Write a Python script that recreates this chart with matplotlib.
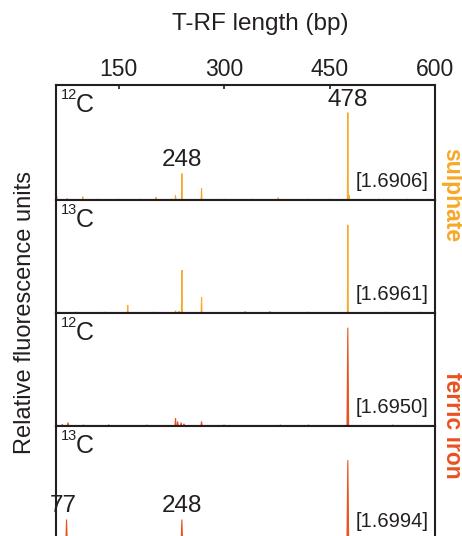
import numpy as np
import matplotlib.pyplot as plt

plt.rcParams['font.family'] = ['Liberation Sans', 'DejaVu Sans']

# --- data: peak positions (bp) and relative heights per profile ---
pos_12c_sul = [62, 77, 99, 120, 150, 180, 203, 225, 231, 240, 268, 300, 340, 377, 420, 450, 476, 478, 520, 560, 590]
hgt_12c_sul = [0.035, 0.015, 0.03, 0.01, 0.01, 0.01, 0.025, 0.01, 0.04, 0.23, 0.10, 0.01, 0.01, 0.02, 0.01, 0.01, 0.76, 0.04, 0.01, 0.01, 0.01]

pos_13c_sul = [65, 90, 130, 163, 200, 231, 236, 240, 268, 330, 365, 420, 476, 530, 580]
hgt_13c_sul = [0.01, 0.01, 0.01, 0.07, 0.01, 0.02, 0.015, 0.38, 0.14, 0.015, 0.015, 0.01, 0.78, 0.01, 0.01]

pos_12c_fe = [62, 70, 78, 100, 136, 190, 231, 234, 239, 243, 268, 300, 380, 420, 476, 540]
hgt_12c_fe = [0.01, 0.015, 0.03, 0.01, 0.012, 0.01, 0.07, 0.04, 0.03, 0.02, 0.04, 0.01, 0.01, 0.01, 0.87, 0.01]

pos_13c_fe = [76, 120, 200, 236, 240, 268, 476]
hgt_13c_fe = [0.18, 0.01, 0.01, 0.02, 0.18, 0.01, 0.70]

profiles = [
    (pos_12c_sul, hgt_12c_sul, '12', '[1.6906]', 'sul'),
    (pos_13c_sul, hgt_13c_sul, '13', '[1.6961]', 'sul'),
    (pos_12c_fe, hgt_12c_fe, '12', '[1.6950]', 'fe'),
    (pos_13c_fe, hgt_13c_fe, '13', '[1.6994]', 'fe'),
]

x_ticks = [150, 300, 450, 600]
col_sul = '#F7A826'
col_fe = '#E8521F'
dark = '#231F20'

fig = plt.figure(figsize=(4.62, 5.36), dpi=100)

W, H = 462, 536
left, right = 56, 435
edges = [85, 200, 313, 426, 540]

axes = []
for i, (pos, hgt, iso, brk, grp) in enumerate(profiles):
    top, bot = edges[i], edges[i + 1]
    ax = fig.add_axes([left / W, 1 - bot / H, (right - left) / W, (bot - top) / H])
    axes.append(ax)
    col = col_sul if grp == 'sul' else col_fe
    w = 0.6 if grp == 'sul' else 0.9
    for p, h in zip(pos, hgt):
        ww = w * (1.3 if h > 0.5 and grp == 'fe' else 1.0)
        ax.fill([p - ww, p, p + ww], [0, h, 0], color=col, lw=0.8)
    ax.set_xlim(61, 600)
    ax.set_ylim(0, 1)
    ax.set_yticks([])
    ax.set_xticks(x_ticks)
    ax.tick_params(axis='x', direction='in', length=3, width=1.2, color=dark,
                   top=(i == 0), bottom=False, labeltop=(i == 0), labelbottom=False,
                   labelsize=16.5, pad=3, labelcolor=dark)
    for s in ax.spines.values():
        s.set_linewidth(1.5)
        s.set_color(dark)
    # isotope label: small superscript number + large C
    fig.text(61 / W, 1 - (top + 14) / H, iso, fontsize=10.5, ha='left', va='baseline', color=dark)
    fig.text(75.5 / W, 1 - (top + 27) / H, 'C', fontsize=18, ha='left', va='baseline', color=dark)
    ax.text(0.982, 0.16, brk, transform=ax.transAxes, fontsize=14.5,
            ha='right', va='center', color=dark)

# peak annotations
axes[0].text(476, 0.87, '478', fontsize=17.5, ha='center', va='center', color=dark)
axes[0].text(240, 0.35, '248', fontsize=17.5, ha='center', va='center', color=dark)
axes[3].text(72, 0.30, '77', fontsize=17.5, ha='center', va='center', color=dark)
axes[3].text(240, 0.30, '248', fontsize=17.5, ha='center', va='center', color=dark)

fig.text(260 / W, 1 - 24 / H, 'T-RF length (bp)', fontsize=17.5, ha='center', va='center', color=dark)
fig.text(25 / W, 1 - 313 / H, 'Relative fluorescence units', fontsize=17, rotation=90,
         ha='center', va='center', color=dark)
fig.text(452 / W, 1 - 195 / H, 'sulphate', fontsize=16.5, fontweight='bold', rotation=-90,
         ha='center', va='center', color=col_sul)
fig.text(452 / W, 1 - 425 / H, 'ferric iron', fontsize=16.5, fontweight='bold', rotation=-90,
         ha='center', va='center', color=col_fe)

fig.savefig('out.png', dpi=100)
